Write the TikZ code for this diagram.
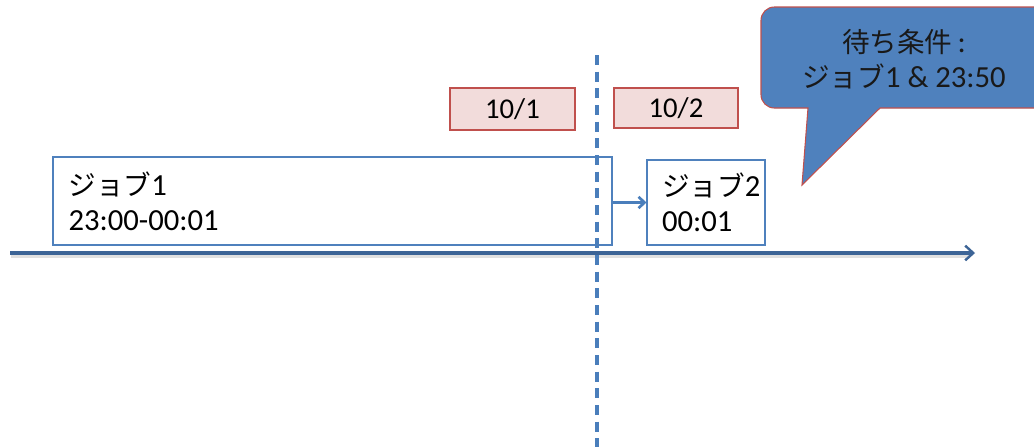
\documentclass[tikz,border=0pt]{standalone}
\usepackage{fontspec}
\setmainfont{Carlito}
\newfontfamily\jp[Scale=0.9]{Noto Sans CJK JP}
\usetikzlibrary{arrows.meta}
\definecolor{boxblue}{RGB}{79,129,189}
\definecolor{lineblue}{RGB}{74,126,187}
\definecolor{axisblue}{RGB}{60,100,150}
\definecolor{datefill}{RGB}{242,220,219}
\definecolor{dateline}{RGB}{192,80,77}
\definecolor{calloutfill}{RGB}{79,129,189}
\tikzset{
  jobbox/.style={draw=boxblue, line width=0.8pt, fill=white, align=left, inner xsep=11pt, inner ysep=0pt, font=\fontsize{23}{26.5}\selectfont, anchor=center},
  datebox/.style={draw=dateline, line width=0.8pt, fill=datefill, font=\fontsize{21.5}{24}\selectfont, inner sep=0pt},
  callouttext/.style={align=center, font=\fontsize{23}{26.5}\selectfont, text=black!90},
  axis/.style={draw=axisblue, line width=2.6pt, -{Straight Barb[length=6pt,width=11pt,line width=1.8pt]}},
  dashline/.style={draw=lineblue, line width=2.3pt, dash pattern=on 7.5pt off 5pt},
  linkarrow/.style={draw=lineblue, line width=2.8pt, -{Straight Barb[length=4.5pt,width=8.5pt,line width=2pt]}}
}
\begin{document}
\begin{tikzpicture}[x=0.75pt,y=-0.75pt]
\useasboundingbox (0,0) rectangle (1034,447);
\fill[white] (0,0) rectangle (1034,447);
% callout
\draw[draw=dateline, line width=0.8pt, fill=calloutfill, rounded corners=10pt] (1050,7) -- (761,7) -- (761,108) -- (790,108) [sharp corners] -- (808,108) -- (802,185) -- (880,108) -- (1050,108) -- cycle;
\node[callouttext] (callout) at (904,59) {{\jp 待ち条件}\,:\\{\jp ジョブ}1 \& 23:50};
% date boxes
\node[datebox, minimum width=93.75pt, minimum height=31.5pt] (d1) at (512.5,109) {10/1};
\node[datebox, minimum width=93pt, minimum height=30pt] (d2) at (676,108) {10/2};
% timeline
\coordinate (t0) at (10,253);
\coordinate (t1) at (975,253);
\draw[black!12, line width=2pt] (11,256.5) -- (970,256.5);
\draw[axis] (t0) -- (t1);
% job boxes
\node[jobbox, minimum width=419.25pt, minimum height=66pt, text width=396pt] (j1) at (332.5,201) {{\jp ジョブ}1\\23:00-00:01};
\node[jobbox, minimum width=88.5pt, minimum height=63.75pt, text width=66pt, inner xsep=10pt] (j2) at (706,202.5) {{\jp ジョブ}2\\00:01};
\draw[linkarrow] (j1.east|-j2) -- (j2.west);
% dashed divider
\coordinate (v0) at (597,55);
\coordinate (v1) at (597,447);
\draw[dashline] (v0) -- (v1);
\end{tikzpicture}
\end{document}
